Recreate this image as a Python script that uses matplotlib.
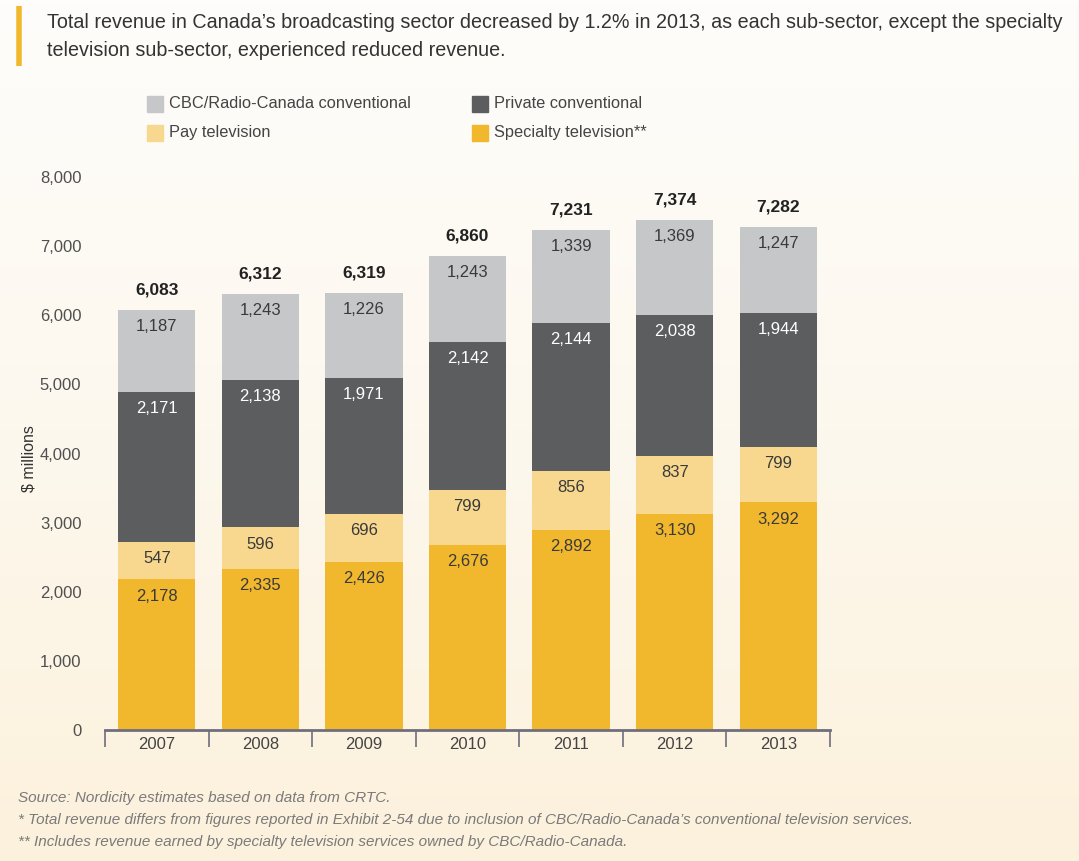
import numpy as np
import matplotlib.pyplot as plt
from matplotlib.colors import LinearSegmentedColormap

years = ['2007', '2008', '2009', '2010', '2011', '2012', '2013']
specialty = [2178, 2335, 2426, 2676, 2892, 3130, 3292]
pay = [547, 596, 696, 799, 856, 837, 799]
private = [2171, 2138, 1971, 2142, 2144, 2038, 1944]
cbc = [1187, 1243, 1226, 1243, 1339, 1369, 1247]
totals = [6083, 6312, 6319, 6860, 7231, 7374, 7282]

c_spec = '#f1b82d'
c_pay = '#f8d88f'
c_priv = '#5b5d5f'
c_cbc = '#c6c7c9'

plt.rcParams['font.family'] = ['Liberation Sans', 'DejaVu Sans']

fig = plt.figure(figsize=(10.79, 8.61), dpi=100)

# background gradient
bg = fig.add_axes([0, 0, 1, 1], zorder=-10)
grad = np.linspace(0, 1, 256).reshape(-1, 1)
cmap = LinearSegmentedColormap.from_list('bg', ['#fefdfb', '#fdf8ee', '#fcf1dc'])
bg.imshow(grad, aspect='auto', cmap=cmap, extent=[0, 1, 0, 1], origin='upper')
bg.axis('off')

# title with accent bar
fig.add_artist(plt.Line2D([19 / 1079, 19 / 1079], [1 - 6 / 861, 1 - 66 / 861],
                          color=c_spec, lw=4, solid_capstyle='butt'))
fig.text(47 / 1079, 1 - 22 / 861,
         "Total revenue in Canada\u2019s broadcasting sector decreased by 1.2% in 2013, as each sub-sector, except the specialty",
         fontsize=14.2, color='#333333', va='center', ha='left')
fig.text(47 / 1079, 1 - 50 / 861, "television sub-sector, experienced reduced revenue.",
         fontsize=14.2, color='#333333', va='center', ha='left')

ax = fig.add_axes([105 / 1079, 131 / 861, 725 / 1079, 553 / 861])
ax.set_facecolor('none')
x = np.arange(len(years))
w = 0.745

segments = [(specialty, c_spec, '#3a3a3a'), (pay, c_pay, '#3a3a3a'),
            (private, c_priv, 'white'), (cbc, c_cbc, '#3a3a3a')]
bottom = np.zeros(len(years))
for vals, col, tcol in segments:
    vals = np.array(vals)
    ax.bar(x, vals, w, bottom=bottom, color=col, edgecolor='none', zorder=2)
    for xi, b, v in zip(x, bottom, vals):
        ax.annotate(f'{v:,}', (xi, b + v), xytext=(0, -12), textcoords='offset points',
                    ha='center', va='center', fontsize=12, color=tcol, zorder=3)
    bottom += vals

for xi, t in zip(x, totals):
    ax.annotate(f'{t:,}', (xi, t), xytext=(0, 9), textcoords='offset points',
                ha='center', va='bottom', fontsize=12.5, fontweight='bold', color='#222222')

ax.set_xlim(-0.5, len(years) - 0.5)
ax.set_ylim(0, 8000)
ax.set_yticks(range(0, 8001, 1000))
ax.set_yticklabels([f'{v:,}' for v in range(0, 8001, 1000)])
ax.tick_params(axis='y', length=0, pad=17, labelsize=12, labelcolor='#505050')
ax.set_xticks(x)
ax.set_xticklabels(years)
ax.tick_params(axis='x', length=0, pad=5, labelsize=12, labelcolor='#444444')
ax.set_xticks(np.arange(-0.5, len(years)), minor=True)
ax.tick_params(axis='x', which='minor', length=12, width=1.2, color='#6e6e7e', direction='out')
for s in ['top', 'right', 'left']:
    ax.spines[s].set_visible(False)
ax.spines['bottom'].set_color('#6e6e7e')
ax.spines['bottom'].set_linewidth(2)
ax.set_ylabel('$ millions', fontsize=11.5, color='#333333', labelpad=2)
ax.yaxis.set_label_coords(-0.095, 0.49)

# legend
leg_items = [('CBC/Radio-Canada conventional', c_cbc, 147, 104),
             ('Private conventional', c_priv, 472, 104),
             ('Pay television', c_pay, 147, 133),
             ('Specialty television**', c_spec, 472, 133)]
for lab, col, px, py in leg_items:
    fig.patches.append(plt.Rectangle((px / 1079, 1 - (py + 8) / 861), 16 / 1079, 16 / 861,
                                     transform=fig.transFigure, color=col, figure=fig))
    fig.text((px + 22) / 1079, 1 - py / 861, lab, fontsize=11.8, color='#444444',
             va='center', ha='left')

# footnotes
notes = ['Source: Nordicity estimates based on data from CRTC.',
         '* Total revenue differs from figures reported in Exhibit 2-54 due to inclusion of CBC/Radio-Canada\u2019s conventional television services.',
         '** Includes revenue earned by specialty television services owned by CBC/Radio-Canada.']
for i, n in enumerate(notes):
    fig.text(18 / 1079, 1 - (798 + 22 * i) / 861, n, fontsize=11, style='italic',
             color='#7a7a7a', va='center', ha='left')

fig.savefig('out.png', dpi=100)
